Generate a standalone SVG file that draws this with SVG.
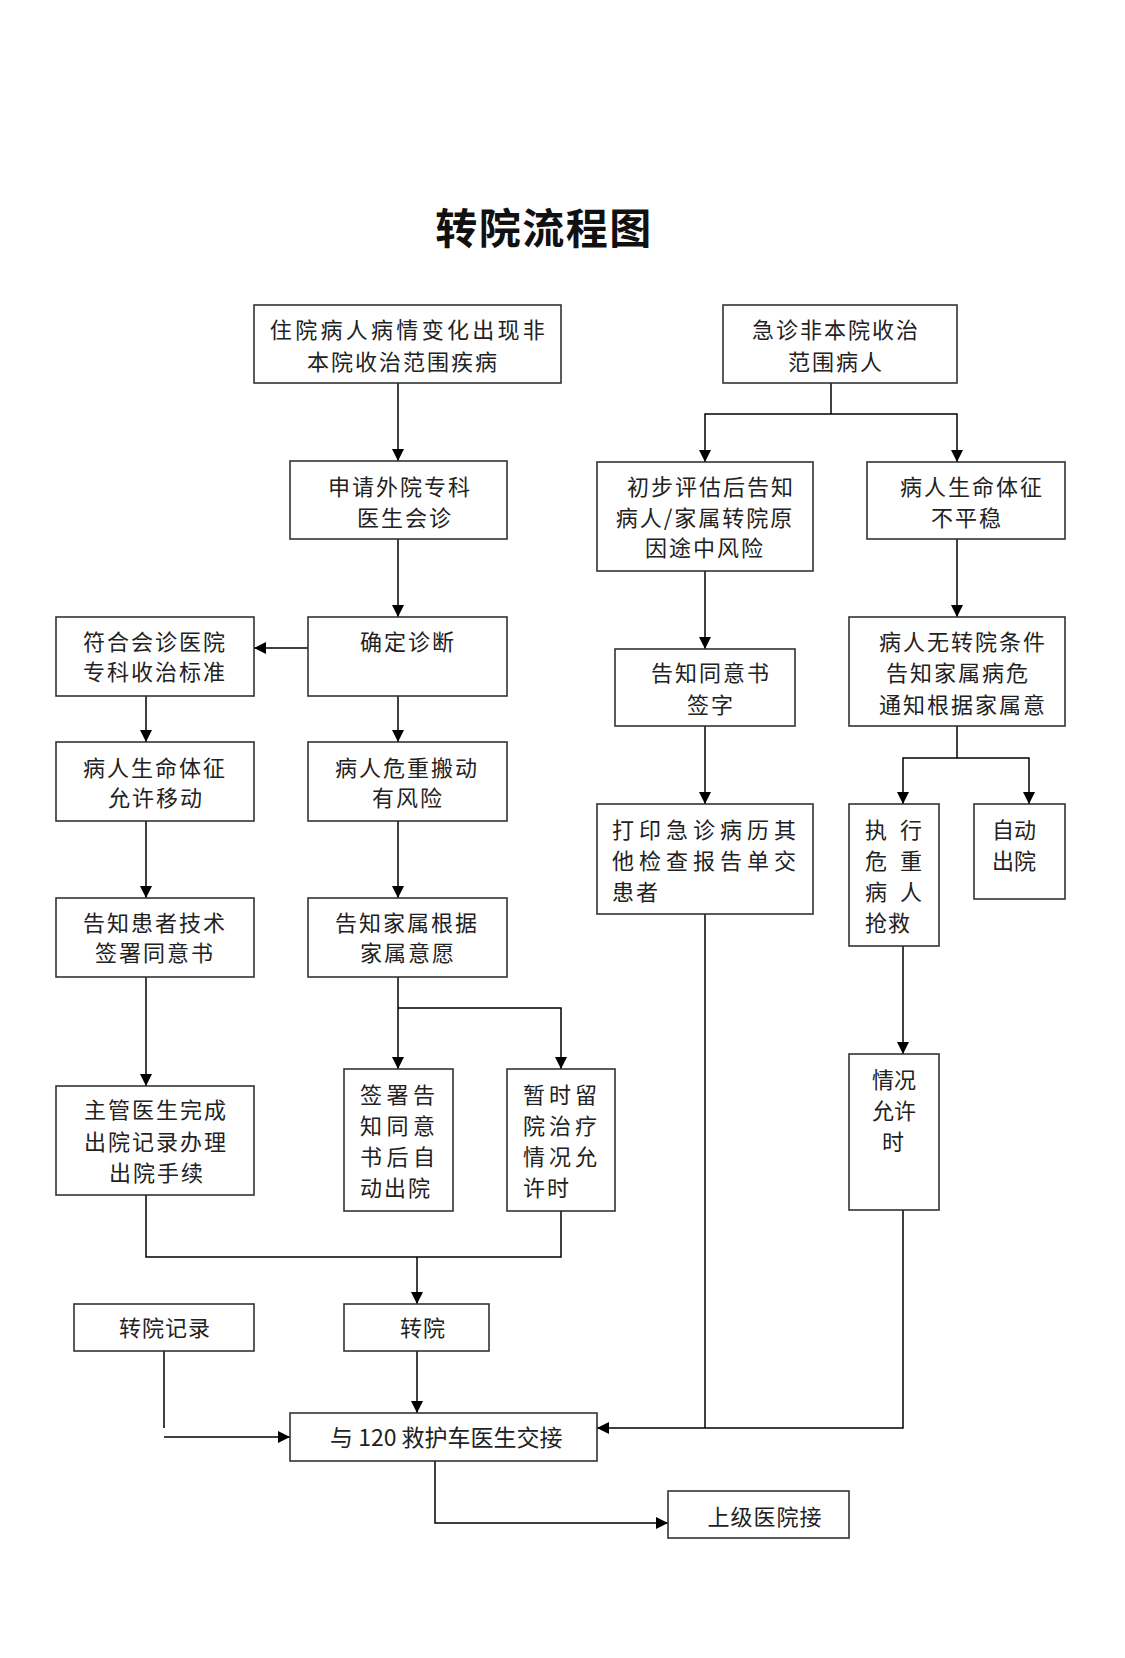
<svg xmlns="http://www.w3.org/2000/svg" width="1125" height="1658" viewBox="0 0 1125 1658">
<defs>
<marker id="ah" markerUnits="userSpaceOnUse" markerWidth="12" markerHeight="12" refX="12" refY="6" orient="auto">
<path d="M0,0 L12,6 L0,12 z" fill="#000"/>
</marker>
<style>
.b{fill:#fff;stroke:#333;stroke-width:1.6}
.t{font-family:"Noto Sans CJK SC","Noto Sans",sans-serif;font-size:22px;fill:#222;letter-spacing:2px;text-anchor:middle}
.l{font-family:"Noto Sans CJK SC","Noto Sans",sans-serif;font-size:22px;fill:#222;text-anchor:start}
.c{fill:none;stroke:#000;stroke-width:1.5}
.a{fill:none;stroke:#000;stroke-width:1.5;marker-end:url(#ah)}
</style>
</defs>
<rect width="1125" height="1658" fill="#fff"/>
<text x="544" y="244" style="font-family:'Noto Sans CJK SC',sans-serif;font-size:42px;font-weight:bold;letter-spacing:1.5px;text-anchor:middle;fill:#111">转院流程图</text>

<g id="connectors">
<path class="a" d="M398,383 V461"/>
<path class="a" d="M398,539 V617"/>
<path class="a" d="M308,648 H254"/>
<path class="a" d="M146,696 V742"/>
<path class="a" d="M398,696 V742"/>
<path class="a" d="M146,821 V898"/>
<path class="a" d="M398,821 V898"/>
<path class="a" d="M146,977 V1086"/>
<path class="a" d="M398,977 V1069"/>
<path class="a" d="M398,1008 H561 V1069"/>
<path class="c" d="M146,1195 V1257 H561 V1211"/>
<path class="a" d="M417,1257 V1304"/>
<path class="a" d="M417,1351 V1413"/>
<path class="c" d="M164,1351 V1428"/>
<path class="a" d="M164,1437 H290"/>
<path class="a" d="M435,1461 V1523 H668"/>
<path class="c" d="M705,914 V1428"/>
<path class="a" d="M903,1210 V1428 H597"/>
<path class="c" d="M831,383 V414"/>
<path class="a" d="M831,414 H705 V462"/>
<path class="a" d="M831,414 H957 V462"/>
<path class="a" d="M705,571 V649"/>
<path class="a" d="M957,539 V617"/>
<path class="a" d="M705,726 V804"/>
<path class="c" d="M957,726 V758"/>
<path class="a" d="M957,758 H903 V804"/>
<path class="a" d="M957,758 H1029 V804"/>
<path class="a" d="M903,946 V1054"/>
</g>

<g id="n1"><rect class="b" x="254" y="305" width="307" height="78"/>
<text class="t" x="409" y="338" style="letter-spacing:3.3px">住院病人病情变化出现非</text>
<text class="t" x="403" y="370">本院收治范围疾病</text></g>

<g id="n2"><rect class="b" x="290" y="461" width="217" height="78"/>
<text class="t" x="400" y="495">申请外院专科</text>
<text class="t" x="405" y="526">医生会诊</text></g>

<g id="n3"><rect class="b" x="56" y="617" width="198" height="79"/>
<text class="t" x="155" y="650">符合会诊医院</text>
<text class="t" x="155" y="680">专科收治标准</text></g>

<g id="n4"><rect class="b" x="308" y="617" width="199" height="79"/>
<text class="t" x="408" y="650">确定诊断</text></g>

<g id="n5"><rect class="b" x="56" y="742" width="198" height="79"/>
<text class="t" x="155" y="776">病人生命体征</text>
<text class="t" x="156" y="806">允许移动</text></g>

<g id="n6"><rect class="b" x="308" y="742" width="199" height="79"/>
<text class="t" x="407" y="776">病人危重搬动</text>
<text class="t" x="408" y="806">有风险</text></g>

<g id="n7"><rect class="b" x="56" y="898" width="198" height="79"/>
<text class="t" x="155" y="931">告知患者技术</text>
<text class="t" x="155" y="961">签署同意书</text></g>

<g id="n8"><rect class="b" x="308" y="898" width="199" height="79"/>
<text class="t" x="407" y="931">告知家属根据</text>
<text class="t" x="408" y="961">家属意愿</text></g>

<g id="n9"><rect class="b" x="56" y="1086" width="198" height="109"/>
<text class="t" x="156" y="1118">主管医生完成</text>
<text class="t" x="156" y="1150">出院记录办理</text>
<text class="t" x="157" y="1181">出院手续</text></g>

<g id="n10"><rect class="b" x="344" y="1069" width="109" height="142"/>
<text class="l" x="360 386.5 413" y="1103">签署告</text>
<text class="l" x="360 386.5 413" y="1134">知同意</text>
<text class="l" x="360 386.5 413" y="1165">书后自</text>
<text class="l" x="360 384 408" y="1196">动出院</text></g>

<g id="n11"><rect class="b" x="507" y="1069" width="108" height="142"/>
<text class="l" x="523 549 575" y="1103">暂时留</text>
<text class="l" x="523 549 575" y="1134">院治疗</text>
<text class="l" x="523 549 575" y="1165">情况允</text>
<text class="l" x="523 547" y="1196">许时</text></g>

<g id="n12"><rect class="b" x="723" y="305" width="234" height="78"/>
<text class="t" x="836" y="338">急诊非本院收治</text>
<text class="t" x="836" y="370">范围病人</text></g>

<g id="n13"><rect class="b" x="597" y="462" width="216" height="109"/>
<text class="t" x="711" y="495">初步评估后告知</text>
<text class="t" x="705" y="526">病人/家属转院原</text>
<text class="t" x="705" y="556">因途中风险</text></g>

<g id="n14"><rect class="b" x="867" y="462" width="198" height="77"/>
<text class="t" x="972" y="495">病人生命体征</text>
<text class="t" x="967" y="526">不平稳</text></g>

<g id="n15"><rect class="b" x="615" y="649" width="180" height="77"/>
<text class="t" x="711" y="681">告知同意书</text>
<text class="t" x="711" y="713">签字</text></g>

<g id="n16"><rect class="b" x="849" y="617" width="216" height="109"/>
<text class="t" x="963" y="650">病人无转院条件</text>
<text class="t" x="958" y="681">告知家属病危</text>
<text class="t" x="963" y="713">通知根据家属意</text></g>

<g id="n17"><rect class="b" x="597" y="804" width="216" height="110"/>
<text class="l" x="612 639 666 693 720 747 774" y="838">打印急诊病历其</text>
<text class="l" x="612 639 666 693 720 747 774" y="869">他检查报告单交</text>
<text class="l" x="612 636" y="900">患者</text></g>

<g id="n18"><rect class="b" x="849" y="804" width="90" height="142"/>
<text class="l" x="865 900" y="838">执行</text>
<text class="l" x="865 900" y="869">危重</text>
<text class="l" x="865 900" y="900">病人</text>
<text class="l" x="865 888" y="931">抢救</text></g>

<g id="n19"><rect class="b" x="974" y="804" width="91" height="95"/>
<text class="l" x="992 1014" y="838">自动</text>
<text class="l" x="992 1014" y="869">出院</text></g>

<g id="n20"><rect class="b" x="849" y="1054" width="90" height="156"/>
<text class="t" x="894" y="1088" style="letter-spacing:0">情况</text>
<text class="t" x="894" y="1119" style="letter-spacing:0">允许</text>
<text class="t" x="893" y="1150" style="letter-spacing:0">时</text></g>

<g id="n21"><rect class="b" x="74" y="1304" width="180" height="47"/>
<text class="t" x="165" y="1336" style="letter-spacing:1px">转院记录</text></g>

<g id="n22"><rect class="b" x="344" y="1304" width="145" height="47"/>
<text class="t" x="423" y="1336" style="letter-spacing:1px">转院</text></g>

<g id="n23"><rect class="b" x="290" y="1413" width="307" height="48"/>
<text class="l" x="330" y="1446" style="font-size:23px">与 120 救护车医生交接</text></g>

<g id="n24"><rect class="b" x="668" y="1491" width="181" height="47"/>
<text class="t" x="765" y="1525" style="letter-spacing:1px">上级医院接</text></g>
</svg>
